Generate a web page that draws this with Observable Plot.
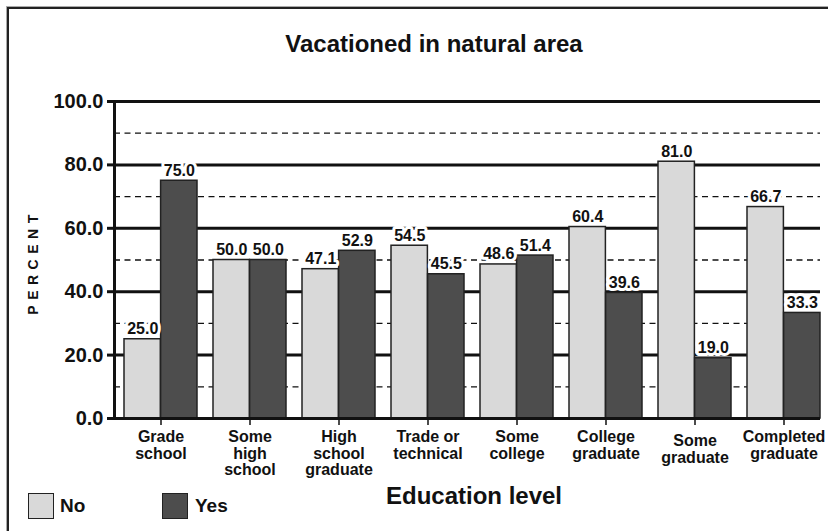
<!DOCTYPE html>
<html><head><meta charset="utf-8">
<script src="https://cdn.jsdelivr.net/npm/d3@7"></script>
<script src="https://cdn.jsdelivr.net/npm/@observablehq/plot@0.6"></script>
<style>
html,body{margin:0;padding:0;background:#fff;overflow:hidden;}
body{width:828px;height:531px;position:relative;font-family:"Liberation Sans",Arial,Helvetica,sans-serif;font-weight:bold;color:#111;}
#frame{position:absolute;left:7px;top:7px;width:1000px;height:1000px;border-left:2px solid #222;border-top:2px solid #222;box-shadow:-1px -1px 0 #aaa;}
#chart{position:absolute;left:0;top:0;}
#title{position:absolute;left:0;width:868px;top:30px;text-align:center;font-size:24px;line-height:28px;}
#ytitle{position:absolute;left:33px;top:262px;transform:translate(-50%,-50%) rotate(-90deg);font-size:14px;letter-spacing:5.5px;white-space:nowrap;}
#xtitle{position:absolute;left:474px;top:482px;transform:translateX(-50%);font-size:24px;line-height:28px;white-space:nowrap;}
.sw{position:absolute;top:493px;width:24px;height:24px;border:1.5px solid #222;}
.lt{position:absolute;top:494px;font-size:19px;line-height:24px;}
</style></head>
<body>
<div id="frame"></div>
<div id="chart"></div>
<div id="title">Vacationed in natural area</div>
<div id="ytitle">PERCENT</div>
<div id="xtitle">Education level</div>
<div class="sw" style="left:28px;background:#d9d9d9"></div><div class="lt" style="left:60px">No</div>
<div class="sw" style="left:162px;background:#4d4d4d"></div><div class="lt" style="left:195px">Yes</div>
<script>
const categories = ["Grade school","Some high school","High school graduate","Trade or technical","Some college","College graduate","Some graduate","Completed graduate"];
const tickLabels = ["Grade\nschool","Some\nhigh\nschool","High\nschool\ngraduate","Trade or\ntechnical","Some\ncollege","College\ngraduate","Some\ngraduate","Completed\ngraduate"];
const seriesNames = ["No","Yes"];
const noValues = [25.0,50.0,47.1,54.5,48.6,60.4,81.0,66.7];
const yesValues = [75.0,50.0,52.9,45.5,51.4,39.6,19.0,33.3];
const majorTicks = [0,20,40,60,80,100];
const minorTicks = [10,30,50,70,90];
const seriesColors = ["#d9d9d9","#4d4d4d"];

const rows = categories.map((c,i)=>({category:c, label:tickLabels[i], No:noValues[i], Yes:yesValues[i]}));

const W = 828, H = 531, mL = 114, mR = 8, mT = 101, mB = 113;
const pI = 0.18, pO = 0.044;
const step = (W - mL - mR) / (categories.length - pI + 2*pO);
const bw = step * (1 - pI);
const half = bw / 2;

const labelStyle = {fontSize:16, fontWeight:"bold", stroke:"white", strokeWidth:6, fill:"#111", lineAnchor:"bottom", dy:-5};
const catStyle = {x:"category", y:0, text:"label", lineAnchor:"top", fontSize:16, fontWeight:"bold", lineHeight:1.06, fill:"#111"};

const plot = Plot.plot({
  width: W, height: H,
  marginLeft: mL, marginRight: mR, marginTop: mT, marginBottom: mB,
  style: {fontFamily:'"Liberation Sans",Arial,sans-serif', fontWeight:"bold", color:"#111", background:"transparent", overflow:"visible"},
  x: {domain: categories, paddingInner: pI, paddingOuter: pO, align: 1, axis: null},
  y: {domain: [0,100], axis: null},
  marks: [
    Plot.ruleY(minorTicks, {stroke:"#111", strokeWidth:1.3, strokeDasharray:"6,4.5"}),
    Plot.ruleY(majorTicks, {stroke:"#111", strokeWidth:3}),
    Plot.barY(rows, {x:"category", y:"No", fill:seriesColors[0], stroke:"#222", strokeWidth:1.5, insetRight:half}),
    Plot.barY(rows, {x:"category", y:"Yes", fill:seriesColors[1], stroke:"#222", strokeWidth:1.5, insetLeft:half}),
    Plot.text(rows, {x:"category", y:"No", text:d=>d.No.toFixed(1), dx:-half/2, ...labelStyle}),
    Plot.text(rows, {x:"category", y:"Yes", text:d=>d.Yes.toFixed(1), dx:half/2, ...labelStyle}),
    Plot.axisY(majorTicks, {tickSize:7, tickPadding:4, strokeWidth:3, fontSize:20, fontWeight:"bold", tickFormat:d=>d.toFixed(1)}),
    Plot.axisX({tickSize:7, strokeWidth:1.5, tickFormat:()=>"" , label:null}),
    Plot.text(rows, {...catStyle, filter:d=>d.category!=="Some graduate", dy:11}),
    Plot.text(rows, {...catStyle, filter:d=>d.category==="Some graduate", dy:15}),
    Plot.frame({anchor:"left", strokeWidth:3, stroke:"#111"}),
    Plot.ruleY([0], {stroke:"#111", strokeWidth:3})
  ]
});
document.getElementById("chart").appendChild(plot);
</script>
</body></html>
